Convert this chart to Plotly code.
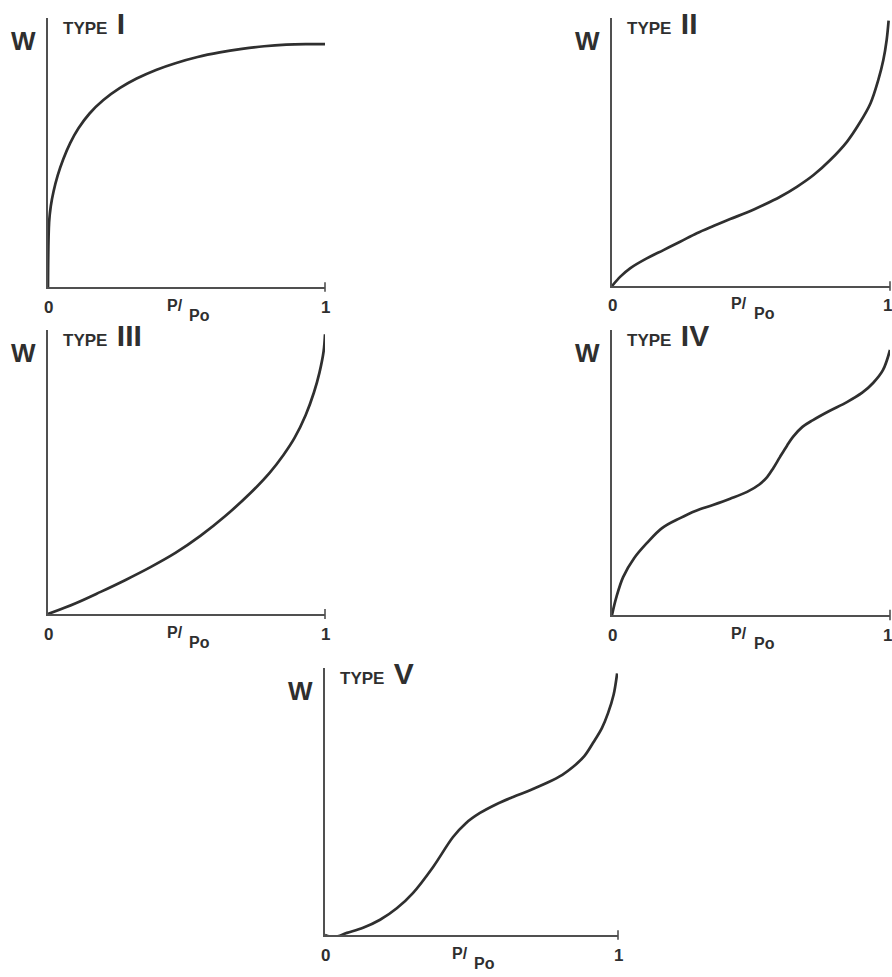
import plotly.graph_objects as go

# Adsorption isotherm types: amount adsorbed W (normalised) vs relative pressure P/Po
type1_p = [0, 0.004, 0.01, 0.02, 0.035, 0.055, 0.08, 0.11, 0.15, 0.2, 0.26, 0.32, 0.39,
           0.46, 0.54, 0.62, 0.70, 0.78, 0.86, 0.93, 1.0]
type1_w = [0, 0.24, 0.30, 0.355, 0.415, 0.475, 0.535, 0.59, 0.645, 0.695, 0.74, 0.775, 0.807,
           0.832, 0.855, 0.872, 0.885, 0.895, 0.901, 0.903, 0.903]

type2_p = [0, 0.03, 0.065, 0.125, 0.185, 0.245, 0.305, 0.365, 0.425, 0.485, 0.545, 0.605,
           0.665, 0.725, 0.785, 0.845, 0.89, 0.93, 0.958, 0.976, 0.988, 0.995]
type2_w = [0, 0.035, 0.066, 0.103, 0.134, 0.165, 0.197, 0.224, 0.25, 0.274, 0.302, 0.333,
           0.37, 0.414, 0.47, 0.538, 0.607, 0.682, 0.769, 0.843, 0.918, 0.99]

type3_p = [0, 0.1, 0.19, 0.28, 0.37, 0.46, 0.55, 0.64, 0.73, 0.80, 0.85, 0.89, 0.93,
           0.96, 0.98, 0.995, 1.0]
type3_w = [0, 0.038, 0.078, 0.12, 0.165, 0.215, 0.275, 0.345, 0.425, 0.497, 0.56, 0.62, 0.70,
           0.78, 0.85, 0.925, 0.985]

type4_p = [0, 0.015, 0.04, 0.08, 0.126, 0.18, 0.245, 0.30, 0.363, 0.425, 0.486, 0.53, 0.558,
           0.58, 0.604, 0.63, 0.651, 0.685, 0.723, 0.78, 0.845, 0.9, 0.94, 0.975, 1.0]
type4_w = [0, 0.06, 0.133, 0.20, 0.253, 0.305, 0.34, 0.365, 0.386, 0.408, 0.432, 0.458, 0.484,
           0.515, 0.554, 0.595, 0.625, 0.66, 0.684, 0.715, 0.747, 0.78, 0.815, 0.86, 0.93]

type5_p = [0, 0.03, 0.075, 0.13, 0.188, 0.245, 0.3, 0.369, 0.437, 0.48, 0.529, 0.585, 0.642,
           0.7, 0.758, 0.81, 0.846, 0.885, 0.915, 0.945, 0.966, 0.985, 0.997]
type5_w = [0, -0.008, 0.008, 0.027, 0.057, 0.1, 0.157, 0.255, 0.367, 0.418, 0.457, 0.49, 0.517,
           0.542, 0.57, 0.6, 0.629, 0.67, 0.72, 0.775, 0.831, 0.9, 0.98]

type_names = ["I", "II", "III", "IV", "V"]
tick_values = [0, 1]
tick_labels = ["0", "1"]
y_label = "W"
x_label_num = "P/"
x_label_den = "Po"

curves = [(type1_p, type1_w), (type2_p, type2_w), (type3_p, type3_w),
          (type4_p, type4_w), (type5_p, type5_w)]

# Page size and panel frames in pixels: (left, right, bottom, top)
PAGE_W, PAGE_H = 892, 977
frames = [(48, 325, 287, 18), (612, 890, 286, 18), (48, 325, 614, 330),
          (612, 890, 615, 330), (325, 618, 935, 668)]

INK = "#2f2f2f"
AXIS_INK = "#505050"
FONT = "Liberation Sans"

fig = go.Figure()
layout = {}
annotations = []
shapes = []


def label(text, xref, x, yref, y, size, xshift=0, yshift=0, xanchor="center"):
    return dict(text=text, xref=xref, x=x, yref=yref, y=y, xshift=xshift, yshift=yshift,
                xanchor=xanchor, yanchor="middle", showarrow=False,
                font=dict(family=FONT, size=size, color=INK, weight="bold"))


for i, ((p, w), name, (left, right, bottom, top)) in enumerate(zip(curves, type_names, frames)):
    sfx = "" if i == 0 else str(i + 1)
    xa, ya = "x" + sfx, "y" + sfx
    fig.add_trace(go.Scatter(
        x=p, y=w, mode="lines", xaxis=xa, yaxis=ya, cliponaxis=False,
        line=dict(color=INK, width=2.7, shape="spline", smoothing=1.0),
        hoverinfo="skip", showlegend=False))

    axis_common = dict(range=[0, 1], showline=True, linecolor=AXIS_INK, linewidth=1.6,
                       showgrid=False, zeroline=False, showticklabels=False, ticks="",
                       fixedrange=True)
    layout["xaxis" + sfx] = dict(domain=[left / PAGE_W, right / PAGE_W], anchor=ya, **axis_common)
    layout["yaxis" + sfx] = dict(domain=[1 - bottom / PAGE_H, 1 - top / PAGE_H], anchor=xa,
                                 **axis_common)

    # end tick at P/Po = 1
    shapes.append(dict(type="line", xref=xa + " domain", yref=ya + " domain",
                       x0=1, x1=1, y0=-0.018, y1=0.018,
                       line=dict(color=AXIS_INK, width=1.6)))

    # 0 and 1 under the pressure axis (kept inside the page at the right edge)
    edge_shift = -3 if right > PAGE_W - 10 else 0
    for tv, tl in zip(tick_values, tick_labels):
        annotations.append(label(tl, xa, tv, ya + " domain", 0, 17,
                                 xshift=edge_shift if tv == 1 else 0, yshift=-20))

    # P/Po axis caption
    annotations.append(label(x_label_num, xa + " domain", 0.5, ya + " domain", 0, 16,
                             xshift=-12, yshift=-18))
    annotations.append(label(x_label_den, xa + " domain", 0.5, ya + " domain", 0, 16,
                             xshift=13, yshift=-28))

    # W axis caption
    annotations.append(label(y_label, xa + " domain", 0, ya + " domain", 1, 26,
                             xshift=-25, yshift=-23))

    # TYPE heading with large roman numeral
    heading = dict(text="TYPE&nbsp; <span style='font-size:30px'>" + name + "</span>",
                   xref=xa + " domain", x=0, xshift=13, xanchor="left",
                   yref=ya + " domain", y=1, yshift=-24, yanchor="bottom",
                   showarrow=False,
                   font=dict(family=FONT, size=17, color=INK, weight="bold"))
    annotations.append(heading)

fig.update_layout(
    width=PAGE_W, height=PAGE_H,
    margin=dict(l=0, r=0, t=0, b=0),
    paper_bgcolor="white", plot_bgcolor="white",
    annotations=annotations, shapes=shapes,
    **layout)

fig.write_html("out.html", config={"displayModeBar": False})
